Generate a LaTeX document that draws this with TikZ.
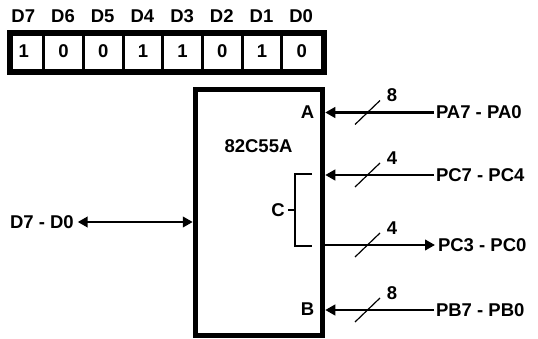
\documentclass[tikz,border=0pt]{standalone}
\usepackage{fontspec}
\setmainfont{Liberation Sans}
\usetikzlibrary{arrows.meta}
\begin{document}
\begin{tikzpicture}[x=1pt,y=-1pt,
  lbl/.style={font=\bfseries\fontsize{18.5}{21}\selectfont, inner sep=0pt, outer sep=0pt},
  wire/.style={line width=2.8pt, -{Triangle[length=10pt,width=10.5pt]}},
  biwire/.style={line width=2.8pt, {Triangle[length=10pt,width=10.5pt]}-{Triangle[length=10pt,width=10.5pt]}},
  slash/.style={line width=1.2pt},
  thinline/.style={line width=1.5pt},
  chipbox/.style={draw, line width=5.5pt, minimum width=127pt, minimum height=246pt, inner sep=0pt}]
\useasboundingbox (0,0) rectangle (538,339);
% register
\foreach \t [count=\i from 0] in {D7,D6,D5,D4,D3,D2,D1,D0}
  \node[lbl] (h\i) at (23.3+39.7*\i,16) {\t};
\foreach \d [count=\i from 0] in {1,0,0,1,1,0,1,0}
  \node[lbl] (r\i) at (23.8+39.7*\i,51.5) {\d};
\draw[line width=6pt] (10,33) rectangle (323.5,72);
\foreach \k in {1,...,7}
  \draw[line width=3pt] (4+39.7*\k,33) -- (4+39.7*\k,72);
% chip
\node[chipbox] (chip) at (259,212.5) {};
\node[lbl] (name) at (258.5,146) {82C55A};
\node[lbl] (A) at (307.5,112.5) {A};
\node[lbl] (B) at (307.5,309) {B};
\node[lbl] (C) at (278,210) {C};
% bracket C
\coordinate (ctop) at (312,174);
\coordinate (cbot) at (312,246);
\coordinate (cmid) at (295,210);
\draw[thinline] (ctop) -| (cmid) |- (cbot);
\draw[thinline] (cmid) -- ([xshift=3pt]C.east);
% data bus
\node[lbl, anchor=west] (D) at (10,222) {D7 - D0};
\draw[biwire] ([xshift=4pt]D.east) -- (D.east -| chip.west);
% ports
\node[lbl, anchor=west] (PA) at (436,112.5) {PA7 - PA0};
\node[lbl, anchor=west] (PCh) at (436,175) {PC7 - PC4};
\node[lbl, anchor=west] (PCl) at (438,245) {PC3 - PC0};
\node[lbl, anchor=west] (PB) at (436,310) {PB7 - PB0};
\draw[wire] ([xshift=-2pt]PA.west) -- (PA.west -| chip.east);
\draw[wire] ([xshift=-2pt]PCh.west) -- (PCh.west -| chip.east);
\draw[wire] (PCl.west -| chip.east) -- ([xshift=-3pt]PCl.west);
\draw[wire] ([xshift=-2pt]PB.west) -- (PB.west -| chip.east);
% bus width marks
\foreach \y/\n in {112.5/8,175/4,245/4,310/8} {
  \draw[slash] (355,\y+12) -- (380,\y-12);
  \node[lbl] at (392,\y-17) {\n};
}
\end{tikzpicture}
\end{document}
